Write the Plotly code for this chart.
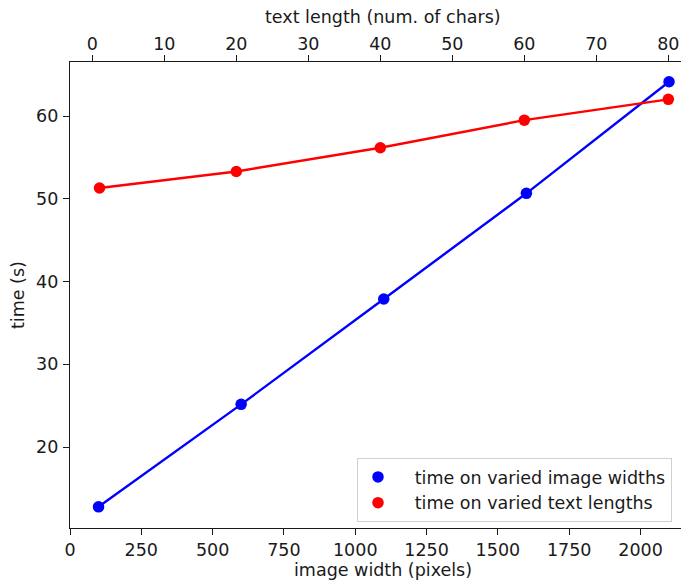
import plotly.graph_objects as go

# Data
image_widths = [100, 600, 1100, 1600, 2100]
time_widths = [12.78, 25.16, 37.89, 50.66, 64.14]
text_lengths = [1, 20, 40, 60, 80]
time_texts = [51.3, 53.3, 56.17, 59.5, 62.02]

bottom_ticks = [0, 250, 500, 750, 1000, 1250, 1500, 1750, 2000]
top_ticks = [0, 10, 20, 30, 40, 50, 60, 70, 80]
y_ticks = [20, 30, 40, 50, 60]

BLUE = "#0000ff"
RED = "#ff0000"
FONT = "DejaVu Sans"
FS = 17.5
TXT = "#1a1a1a"

OFF = 8  # page body offset
W, H = 689 - OFF, 583 - OFF
L, T = 70 - OFF, 62 - OFF
R = 0
B = 583 - 528
PW, PH = W - L - R, H - T - B


def px(xp):
    return (xp - OFF - L) / PW


def py(yp):
    return (T + PH - (yp - OFF)) / PH


fig = go.Figure()

fig.add_trace(go.Scatter(x=image_widths, y=time_widths, mode="lines+markers",
                         line=dict(color=BLUE, width=2.4), marker=dict(color=BLUE, size=11.5),
                         showlegend=False, xaxis="x", yaxis="y", cliponaxis=False))
fig.add_trace(go.Scatter(x=text_lengths, y=time_texts, mode="lines+markers",
                         line=dict(color=RED, width=2.4), marker=dict(color=RED, size=11.5),
                         showlegend=False, xaxis="x2", yaxis="y", cliponaxis=False))
NB = "\u00a0\u00a0\u00a0"
fig.add_trace(go.Scatter(x=[None], y=[None], mode="markers", marker=dict(color=BLUE, size=11.5),
                         name=NB + "time on varied image widths", xaxis="x", yaxis="y"))
fig.add_trace(go.Scatter(x=[None], y=[None], mode="markers", marker=dict(color=RED, size=11.5),
                         name=NB + "time on varied text lengths", xaxis="x2", yaxis="y"))

axis_common = dict(showline=True, linecolor=TXT, linewidth=1.3, ticks="outside",
                   ticklen=6, tickwidth=1.3, tickcolor=TXT, showgrid=False, zeroline=False,
                   automargin=False,
                   tickfont=dict(family=FONT, size=FS, color=TXT))

fig.update_layout(
    width=W, height=H,
    margin=dict(l=L, r=R, t=T, b=B, autoexpand=False),
    plot_bgcolor="white", paper_bgcolor="white",
    font=dict(family=FONT, size=FS, color=TXT),
    xaxis=dict(range=[0, 2170], tickvals=bottom_ticks, **axis_common),
    xaxis2=dict(range=[-3.1, 82.87], tickvals=top_ticks, overlaying="x", side="top",
                ticklabelstandoff=-2, **axis_common),
    yaxis=dict(range=[10.22, 66.53], tickvals=y_ticks, ticklabelstandoff=1, **axis_common),
    legend=dict(x=px(357), y=py(522), xanchor="left", yanchor="bottom",
                bordercolor="#d0d0d0", borderwidth=1, bgcolor="white",
                font=dict(family=FONT, size=FS, color=TXT), itemwidth=30, tracegroupgap=0),
    annotations=[
        dict(text="image width (pixels)", xref="paper", yref="paper",
             x=px(383), y=py(570), showarrow=False,
             xanchor="center", yanchor="middle", font=dict(family=FONT, size=FS, color=TXT)),
        dict(text="text length (num. of chars)", xref="paper", yref="paper",
             x=px(383), y=py(17), showarrow=False,
             xanchor="center", yanchor="middle", font=dict(family=FONT, size=FS, color=TXT)),
        dict(text="time (s)", xref="paper", yref="paper", textangle=-90,
             x=px(18), y=py(295), showarrow=False,
             xanchor="center", yanchor="middle", font=dict(family=FONT, size=FS, color=TXT)),
    ],
)

fig.write_html("out.html")
